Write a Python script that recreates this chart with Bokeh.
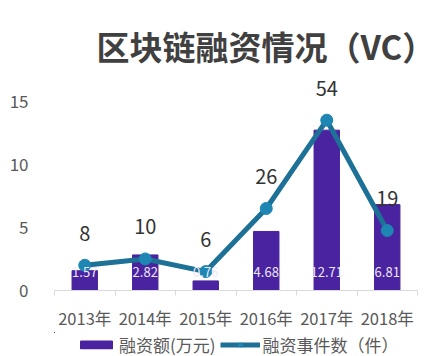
from bokeh.plotting import figure
from bokeh.layouts import column
from bokeh.models import FixedTicker, Range1d, Legend, LegendItem, Title, ColumnDataSource
from bokeh.core.properties import value
from bokeh.embed import file_html
from bokeh.resources import INLINE

years = ["2013年", "2014年", "2015年", "2016年", "2017年", "2018年"]
amount = [1.57, 2.82, 0.76, 4.68, 12.71, 6.81]
amount_text = ["1.57", "2.82", "0.76", "4.68", "12.71", "6.81"]
events = [8, 10, 6, 26, 54, 19]
events_text = ["8", "10", "6", "26", "54", "19"]
y_ticks = [0, 5, 10, 15]
series_names = ["融资额(万元)", "融资事件数（件）"]

FONT = "Noto Sans CJK SC"
BAR = "#4A23A0"
LINE = "#1D7096"
DOT = "#1E86B3"
TXT = "#595959"

idx = list(range(len(years)))
src = ColumnDataSource(dict(x=idx, amount=amount, amount_text=amount_text,
                            events=events, events_text=events_text,
                            zero=[0] * len(idx)))

YMAX = 17.2
p = figure(frame_width=363, frame_height=217, output_backend="svg", toolbar_location=None,
           x_range=Range1d(-0.5, len(years) - 0.5), y_range=Range1d(0, YMAX),
           min_border_left=54, min_border_right=2, min_border_top=73,
           min_border_bottom=0, outline_line_color=None,
           background_fill_color="white", border_fill_color="white")
p.extra_y_ranges = {"ev": Range1d(0, YMAX * 4)}

title = Title(text="区块链融资情况（VC）", text_font=FONT, text_font_size="33px",
              text_font_style="bold", text_color="#404040", align="left", offset=42,
              standoff=8)
p.add_layout(title, "above")

p.grid.visible = False

p.vbar(x="x", top="amount", width=0.42, source=src, fill_color=BAR, line_color=BAR)
p.line(x="x", y="events", source=src, y_range_name="ev", line_color=LINE, line_width=5)
p.scatter(x="x", y="events", source=src, y_range_name="ev", size=12,
          fill_color=DOT, line_color=DOT)

p.text(x="x", y="zero", text="amount_text", source=src, y_offset=-19,
       text_align="center", text_baseline="middle", text_color="#EDE8F7",
       text_font=value(FONT), text_font_size="13px")
p.text(x="x", y="events", text="events_text", source=src, y_range_name="ev",
       y_offset=-32, text_align="center", text_baseline="middle",
       text_color="#333333", text_font=value(FONT), text_font_size="20px")

# axes
p.yaxis.ticker = FixedTicker(ticks=y_ticks)
p.yaxis.axis_line_color = None
p.yaxis.major_tick_line_color = None
p.yaxis.minor_tick_line_color = None
p.yaxis.major_label_text_font = FONT
p.yaxis.major_label_text_font_size = "17px"
p.yaxis.major_label_text_color = TXT
p.yaxis.major_label_standoff = 20

p.xaxis.ticker = FixedTicker(ticks=idx, minor_ticks=[i - 0.5 for i in range(len(years) + 1)])
p.xaxis.major_label_overrides = {i: y for i, y in enumerate(years)}
p.xaxis.axis_line_color = "#D9D9D9"
p.xaxis.major_tick_line_color = None
p.xaxis.major_tick_out = 0
p.xaxis.minor_tick_line_color = "#D9D9D9"
p.xaxis.minor_tick_out = 5
p.xaxis.minor_tick_in = 0
p.xaxis.major_label_text_font = FONT
p.xaxis.major_label_text_font_size = "16.5px"
p.xaxis.major_label_text_color = TXT
p.xaxis.major_label_standoff = 10

# legend strip below the chart: same series drawn far out of view, legend shown
lg = figure(width=419, height=24, output_backend="svg", toolbar_location=None,
            x_range=Range1d(1000, 1001), y_range=Range1d(-2000, -1990),
            x_axis_location=None, y_axis_location=None,
            min_border_left=0, min_border_right=0, min_border_top=0,
            min_border_bottom=0, outline_line_color=None,
            background_fill_color="white", border_fill_color="white")
lg.grid.visible = False
r_bar = lg.vbar(x="x", top="amount", bottom="zero", width=0.42, source=src,
                fill_color=BAR, line_color=BAR)
r_line = lg.line(x="x", y="events", source=src, line_color=LINE, line_width=5)
r_dot = lg.scatter(x="x", y="events", source=src, size=12, fill_color=DOT, line_color=DOT)

legend = Legend(items=[LegendItem(label=series_names[0], renderers=[r_bar]),
                       LegendItem(label=series_names[1], renderers=[r_line, r_dot])],
                orientation="horizontal", location="left", margin=22,
                label_text_font=FONT, label_text_font_size="17px",
                label_text_color=TXT, glyph_width=40, glyph_height=10,
                label_height=14, label_standoff=3, spacing=4, padding=0,
                border_line_color=None, background_fill_alpha=0)
lg.add_layout(legend)

layout = column(p, lg, spacing=0)
open("out.html", "w").write(file_html(layout, INLINE))
